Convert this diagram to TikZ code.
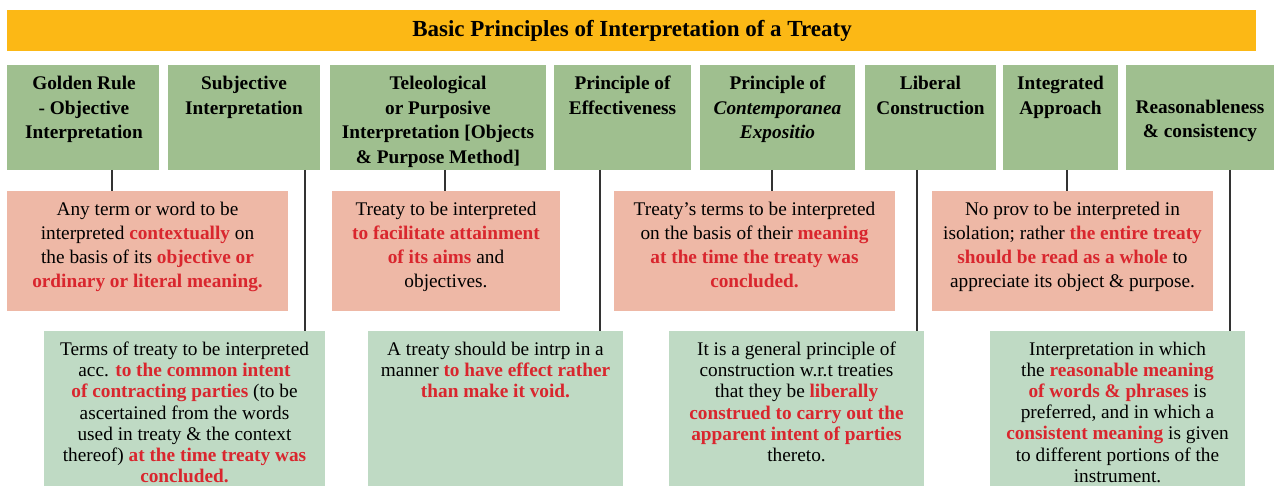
\documentclass[tikz,border=0pt]{standalone}
\usepackage{fontspec}
\setmainfont{Liberation Serif}
\definecolor{orangebar}{HTML}{FCB815}
\definecolor{hdrgreen}{HTML}{9FBF8F}
\definecolor{lightgreen}{HTML}{BFDAC4}
\definecolor{pinkbox}{HTML}{EEB8A6}
\definecolor{redtxt}{HTML}{D9262E}
\newcommand{\rd}[1]{\textcolor{redtxt}{\textbf{#1}}}
\tikzset{
  hdrtxt/.style={anchor=north, align=center, inner sep=0pt, font=\bfseries\fontsize{19.3}{24.5}\selectfont},
  pinktxt/.style={anchor=north, align=center, inner sep=0pt, font=\fontsize{19.3}{24}\selectfont},
  grtxt/.style={anchor=north, align=center, inner sep=0pt, font=\fontsize{19.3}{21.1}\selectfont},
  conn/.style={draw=black!80, line width=1.3pt}
}
\begin{document}
\begin{tikzpicture}[x=1pt,y=-1pt]
\useasboundingbox (0,0) rectangle (1274,486);
\clip (0,0) rectangle (1274,486);
% title
\fill[orangebar] (7,10) rectangle (1256,51);
\node[inner sep=0pt, font=\bfseries\fontsize{23}{26}\selectfont] (title) at (632,30.5) {Basic Principles of Interpretation of a Treaty};
% header boxes
\foreach \n/\a/\b in {h1/7/159, h2/168/320, h3/330/546, h4/554/691, h5/700/855, h6/865/996, h7/1003/1118, h8/1126/1274}{
  \fill[hdrgreen] (\a,65) rectangle (\b,170);
  \coordinate (\n) at ({(\a+\b)/2},170);
}
\node[hdrtxt] (t1) at (84,76) {Golden Rule\\- Objective\\Interpretation};
\node[hdrtxt] (t2) at (244,76) {Subjective\\Interpretation};
\node[hdrtxt] (t3) at (438,76) {Teleological\\or Purposive\\Interpretation [Objects\\\& Purpose Method]};
\node[hdrtxt] (t4) at (622.5,76) {Principle of\\Effectiveness};
\node[hdrtxt] (t5) at (777.5,76) {Principle of\\\textit{Contemporanea}\\\textit{Expositio}};
\node[hdrtxt] (t6) at (930.5,76) {Liberal\\Construction};
\node[hdrtxt] (t7) at (1060.5,76) {Integrated\\Approach};
\node[hdrtxt] (t8) at (1200,99.5) {Reasonableness\\\& consistency};
% pink boxes
\fill[pinkbox] (7,191) rectangle (288,311);
\fill[pinkbox] (332,191) rectangle (560,311);
\fill[pinkbox] (614,191) rectangle (895,311);
\fill[pinkbox] (932,191) rectangle (1213,311);
\coordinate (p1) at (112,191);
\coordinate (p2) at (445,191);
\coordinate (p3) at (772,191);
\coordinate (p4) at (1067,191);
\node[pinktxt] (pt1) at (147.5,202) {Any term or word to be\\interpreted \rd{contextually} on\\the basis of its \rd{objective or}\\\rd{ordinary or literal meaning.}};
\node[pinktxt] (pt2) at (446,202) {Treaty to be interpreted\\\rd{to facilitate attainment}\\\rd{of its aims} and\\objectives.};
\node[pinktxt] (pt3) at (754.5,202) {Treaty’s terms to be interpreted\\on the basis of their \rd{meaning}\\\rd{at the time the treaty was}\\\rd{concluded.}};
\node[pinktxt] (pt4) at (1072.5,202) {No prov to be interpreted in\\isolation; rather \rd{the entire treaty}\\\rd{should be read as a whole} to\\appreciate its object \& purpose.};
% light green boxes
\fill[lightgreen] (44,331) rectangle (325,500);
\fill[lightgreen] (368,331) rectangle (623,500);
\fill[lightgreen] (669,331) rectangle (924,500);
\fill[lightgreen] (990,331) rectangle (1245,500);
\coordinate (g1) at (305,331);
\coordinate (g2) at (600,331);
\coordinate (g3) at (917,331);
\coordinate (g4) at (1230,331);
\node[grtxt] (gt1) at (184.5,342) {Terms of treaty to be interpreted\\acc. \rd{to the common intent}\\\rd{of contracting parties} (to be\\ascertained from the words\\used in treaty \& the context\\thereof) \rd{at the time treaty was}\\\rd{concluded.}};
\node[grtxt] (gt2) at (495.5,342) {A treaty should be intrp in a\\manner \rd{to have effect rather}\\\rd{than make it void.}};
\node[grtxt] (gt3) at (796.5,342) {It is a general principle of\\construction w.r.t treaties\\that they be \rd{liberally}\\\rd{construed to carry out the}\\\rd{apparent intent of parties}\\thereto.};
\node[grtxt] (gt4) at (1117.5,342) {Interpretation in which\\the \rd{reasonable meaning}\\\rd{of words \& phrases} is\\preferred, and in which a\\\rd{consistent meaning} is given\\to different portions of the\\instrument.};
% connectors
\draw[conn] ([xshift=29pt]h1) -- (p1);
\draw[conn] ([xshift=61pt]h2) -- (g1);
\draw[conn] ([xshift=7pt]h3) -- (p2);
\draw[conn] ([xshift=-22.5pt]h4) -- (g2);
\draw[conn] ([xshift=-5.5pt]h5) -- (p3);
\draw[conn] ([xshift=-13.5pt]h6) -- (g3);
\draw[conn] ([xshift=6.5pt]h7) -- (p4);
\draw[conn] ([xshift=30pt]h8) -- (g4);
\end{tikzpicture}
\end{document}
